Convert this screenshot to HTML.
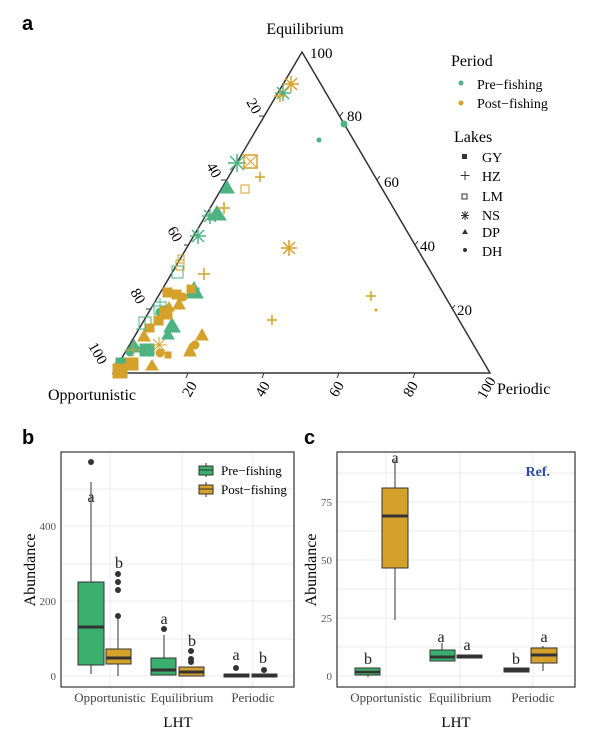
<!DOCTYPE html>
<html><head><meta charset="utf-8"><style>
body{margin:0;background:#fff;}
svg{display:block;font-family:"Liberation Serif",serif;}
.b{font-family:"Liberation Sans",sans-serif;font-weight:bold;}
</style></head><body>
<svg width="600" height="741" viewBox="0 0 600 741">
<text x="22" y="30" class="b" font-size="20">a</text>
<!-- ternary -->
<polygon points="302,52 113,373 490,373" fill="none" stroke="#333" stroke-width="1.5"/>
<g stroke="#333" stroke-width="1">
<line x1="264" y1="116" x2="259" y2="116"/><line x1="226" y1="180" x2="221" y2="180"/><line x1="189" y1="245" x2="184" y2="245"/><line x1="151" y1="309" x2="146" y2="309"/>
<line x1="188" y1="373" x2="186" y2="378"/><line x1="264" y1="373" x2="262" y2="378"/><line x1="339" y1="373" x2="337" y2="378"/><line x1="415" y1="373" x2="413" y2="378"/>
<line x1="340" y1="116" x2="343" y2="112"/><line x1="377" y1="180" x2="380" y2="176"/><line x1="415" y1="245" x2="418" y2="241"/><line x1="452" y1="309" x2="455" y2="305"/>
</g>
<text x="305" y="34" font-size="16" text-anchor="middle">Equilibrium</text>
<text x="310" y="58" font-size="15">100</text>
<text x="347" y="121" font-size="15">80</text>
<text x="384" y="187" font-size="15">60</text>
<text x="420" y="251" font-size="15">40</text>
<text x="457" y="315" font-size="15">20</text>
<text x="497" y="394" font-size="16">Periodic</text>
<text x="48" y="400" font-size="16">Opportunistic</text>
<g font-size="15">
<text transform="translate(246,102) rotate(60)">20</text>
<text transform="translate(206,166) rotate(60)">40</text>
<text transform="translate(167,230) rotate(60)">60</text>
<text transform="translate(130,292) rotate(60)">80</text>
<text transform="translate(88,346) rotate(60)">100</text>
<text transform="translate(190,398) rotate(-60)">20</text>
<text transform="translate(263,398) rotate(-60)">40</text>
<text transform="translate(337,398) rotate(-60)">60</text>
<text transform="translate(411,398) rotate(-60)">80</text>
<text transform="translate(485,400) rotate(-60)">100</text>
</g>
<!-- points -->
<g fill="#4db383" stroke="#4db383">
<circle cx="344" cy="124" r="3"/><circle cx="319" cy="140" r="2"/>
<polygon points="227,181 220,193 234,193"/><polygon points="217,206 208,220 226,220"/>
<polygon points="194,282 185,298 203,298"/><polygon points="168,329 162,339 174,339"/>
<rect x="140" y="344" width="14" height="12"/><rect x="116" y="358" width="14" height="12"/>
<rect x="190" y="288" width="9" height="9"/>
<path d="M237,154 l0,18 M228,163 l18,0 M230,156 l14,14 M244,156 l-14,14" fill="none" stroke-width="1.5"/>
<path d="M283,85 l0,16 M275,93 l16,0 M277,87 l12,12 M289,87 l-12,12" fill="none" stroke-width="1.5"/>
<path d="M198,228 l0,16 M190,236 l16,0 M192,230 l12,12 M204,230 l-12,12" fill="none" stroke-width="1.5"/>
<path d="M210,208 l0,16 M202,216 l16,0 M204,210 l12,12 M216,210 l-12,12" fill="none" stroke-width="1.5"/>
<rect x="172" y="266" width="11" height="12" fill="none"/><rect x="139" y="317" width="12" height="12" fill="none"/>
<rect x="154" y="302" width="12" height="12" fill="none"/>
<path d="M145,320 l0,18 M136,329 l18,0 M160,298 l0,16 M152,306 l16,0" fill="none"/>
<circle cx="160" cy="312" r="4"/><circle cx="130" cy="352" r="4"/><circle cx="120" cy="365" r="5"/>
<polygon points="172,318 164,332 180,332"/><polygon points="134,340 126,352 142,352"/>
</g>
<g fill="#d4a22b" stroke="#d4a22b">
<path d="M291,76 l0,16 M283,84 l16,0 M285,78 l12,12 M297,78 l-12,12" fill="none" stroke-width="1.5"/>
<path d="M280,90 l0,12 M274,96 l12,0" fill="none" stroke-width="1.5"/>
<rect x="244" y="155" width="13" height="13" fill="none" stroke-width="1.5"/>
<path d="M244,155 l13,13 M257,155 l-13,13" fill="none"/>
<rect x="241" y="185" width="8" height="8" fill="none"/>
<path d="M260,172 l0,10 M255,177 l10,0 M224,202 l0,12 M218,208 l12,0" fill="none" stroke-width="1.5"/>
<path d="M289,240 l0,16 M281,248 l16,0 M283,242 l12,12 M295,242 l-12,12" fill="none" stroke-width="1.5"/>
<path d="M204,268 l0,12 M198,274 l12,0" fill="none" stroke-width="1.5"/>
<path d="M371,291 l0,10 M366,296 l10,0" fill="none" stroke-width="1.5"/>
<path d="M272,315 l0,10 M267,320 l10,0" fill="none" stroke-width="1.5"/>
<circle cx="376" cy="310" r="1"/>
<rect x="176" y="260" width="8" height="10" fill="none"/><rect x="178" y="255" width="6" height="8" fill="none"/>
<rect x="187" y="285" width="8" height="8"/>
<rect x="172" y="290" width="9" height="9"/><rect x="163" y="288" width="9" height="9"/>
<rect x="160" y="307" width="12" height="12"/><rect x="154" y="316" width="9" height="9"/>
<rect x="126" y="358" width="12" height="12"/><rect x="113" y="364" width="14" height="14"/>
<rect x="165" y="352" width="6" height="6"/><rect x="146" y="324" width="8" height="8"/>
<circle cx="183" cy="297" r="4"/><circle cx="160" cy="353" r="4"/><circle cx="195" cy="345" r="4"/>
<polygon points="202,329 196,340 208,340"/><polygon points="190,344 184,356 196,356"/>
<polygon points="179,298 173,309 185,309"/><polygon points="152,360 146,370 158,370"/>
<polygon points="144,330 138,341 150,341"/><polygon points="169,302 164,311 174,311"/>
<path d="M159,337 l0,16 M151,345 l16,0 M153,339 l12,12 M165,339 l-12,12" fill="none"/>
<path d="M133,343 l0,14 M126,350 l14,0" fill="none"/>
</g>
<!-- legend a -->
<text x="451" y="66" font-size="16">Period</text>
<circle cx="461" cy="83" r="2.5" fill="#4db383"/><text x="477" y="89" font-size="14">Pre−fishing</text>
<circle cx="461" cy="103" r="2.5" fill="#d4a22b"/><text x="477" y="108" font-size="14">Post−fishing</text>
<text x="454" y="142" font-size="16">Lakes</text>
<g font-size="14" fill="#000">
<rect x="462" y="154" width="5" height="5" fill="#333"/><text x="482" y="162">GY</text>
<path d="M465,171 v9 M460.5,175.5 h9" stroke="#333"/><text x="482" y="181">HZ</text>
<rect x="462" y="194" width="5" height="5" fill="none" stroke="#333"/><text x="482" y="201">LM</text>
<path d="M465,211 v9 M461,215.5 h8 M462,212 l6,7 M468,212 l-6,7" stroke="#333"/><text x="482" y="220">NS</text>
<polygon points="465,229 462,234 468,234" fill="#333"/><text x="482" y="237">DP</text>
<circle cx="465" cy="250" r="2" fill="#333"/><text x="482" y="256">DH</text>
</g>
<!-- panel b -->
<text x="22" y="444" class="b" font-size="20">b</text>
<text x="304" y="444" class="b" font-size="20">c</text>
<g stroke="#ebebeb" stroke-width="1">
<line x1="61" x2="294" y1="676" y2="676"/><line x1="61" x2="294" y1="601" y2="601"/><line x1="61" x2="294" y1="526" y2="526"/>
<line x1="61" x2="294" y1="489" y2="489"/><line x1="61" x2="294" y1="564" y2="564"/><line x1="61" x2="294" y1="639" y2="639"/>
<line x1="110" x2="110" y1="452" y2="687"/><line x1="182" x2="182" y1="452" y2="687"/><line x1="253" x2="253" y1="452" y2="687"/>
<line x1="337" x2="575" y1="676" y2="676"/><line x1="337" x2="575" y1="618" y2="618"/><line x1="337" x2="575" y1="560" y2="560"/><line x1="337" x2="575" y1="502" y2="502"/>
<line x1="337" x2="575" y1="647" y2="647"/><line x1="337" x2="575" y1="589" y2="589"/><line x1="337" x2="575" y1="531" y2="531"/><line x1="337" x2="575" y1="473" y2="473"/>
<line x1="386" x2="386" y1="452" y2="687"/><line x1="460" x2="460" y1="452" y2="687"/><line x1="533" x2="533" y1="452" y2="687"/>
</g>
<g stroke="#333" stroke-width="1">
<line x1="91" x2="91" y1="590" y2="674"/><line x1="91" x2="91" y1="482" y2="582"/>
<rect x="78" y="582" width="26" height="83" fill="#3aaf6e"/><line x1="78" x2="104" y1="627" y2="627" stroke-width="3"/>
<line x1="118" x2="118" y1="614" y2="676"/>
<rect x="106" y="649" width="25" height="15" fill="#d4a22b"/><line x1="106" x2="131" y1="658" y2="658" stroke-width="3"/>
<line x1="164" x2="164" y1="635" y2="675"/>
<rect x="151" y="658" width="25" height="17" fill="#3aaf6e"/><line x1="151" x2="176" y1="670" y2="670" stroke-width="3"/>
<rect x="179" y="667" width="25" height="9" fill="#d4a22b"/><line x1="179" x2="204" y1="672" y2="672" stroke-width="3"/>
<rect x="224" y="674" width="25" height="3" fill="#333"/><rect x="252" y="674" width="25" height="3" fill="#333"/>
<line x1="368" x2="368" y1="670" y2="677"/>
<rect x="355" y="668" width="25" height="7" fill="#3aaf6e"/><line x1="355" x2="380" y1="672" y2="672" stroke-width="2.5"/>
<line x1="395" x2="395" y1="460" y2="488"/><line x1="395" x2="395" y1="568" y2="620"/>
<rect x="382" y="488" width="26" height="80" fill="#d4a22b"/><line x1="382" x2="408" y1="516" y2="516" stroke-width="3"/>
<line x1="442" x2="442" y1="643" y2="650"/>
<rect x="430" y="650" width="25" height="11" fill="#3aaf6e"/><line x1="430" x2="455" y1="657" y2="657" stroke-width="3"/>
<rect x="457" y="655" width="25" height="3" fill="#333"/>
<rect x="504" y="668" width="25" height="4" fill="#333"/>
<line x1="543" x2="543" y1="646" y2="671"/>
<rect x="531" y="648" width="26" height="15" fill="#d4a22b"/><line x1="531" x2="557" y1="655" y2="655" stroke-width="3"/>
</g>
<g fill="#333">
<circle cx="91" cy="462" r="3"/><circle cx="118" cy="574" r="3"/><circle cx="118" cy="582" r="3"/><circle cx="118" cy="590" r="3"/><circle cx="118" cy="616" r="3"/>
<circle cx="164" cy="629" r="3"/><circle cx="191" cy="651" r="3"/><circle cx="191" cy="659" r="3"/><circle cx="191" cy="662" r="3"/>
<circle cx="236" cy="668" r="3"/><circle cx="264" cy="670" r="3"/>
</g>
<rect x="61" y="452" width="233" height="235" fill="none" stroke="#333" stroke-width="1.2"/>
<rect x="337" y="452" width="238" height="235" fill="none" stroke="#333" stroke-width="1.2"/>
<g font-size="11" fill="#555" text-anchor="end">
<text x="56" y="680">0</text><text x="56" y="605">200</text><text x="56" y="530">400</text>
<text x="332" y="680">0</text><text x="332" y="622">25</text><text x="332" y="564">50</text><text x="332" y="506">75</text>
</g>
<g font-size="13" fill="#444" text-anchor="middle">
<text x="110" y="702">Opportunistic</text><text x="182" y="702">Equilibrium</text><text x="253" y="702">Periodic</text>
<text x="386" y="702">Opportunistic</text><text x="460" y="702">Equilibrium</text><text x="533" y="702">Periodic</text>
<text x="178" y="727" fill="#000" font-size="15">LHT</text><text x="456" y="727" fill="#000" font-size="15">LHT</text>
</g>
<text transform="translate(35,570) rotate(-90)" font-size="16" text-anchor="middle">Abundance</text>
<text transform="translate(316,570) rotate(-90)" font-size="16" text-anchor="middle">Abundance</text>
<g font-size="16" fill="#222" text-anchor="middle">
<text x="91" y="502">a</text><text x="119" y="568">b</text><text x="164" y="624">a</text><text x="192" y="646">b</text>
<text x="236" y="660">a</text><text x="263" y="663">b</text>
<text x="368" y="664">b</text><text x="395" y="463">a</text><text x="441" y="642">a</text><text x="467" y="650">a</text>
<text x="516" y="664">b</text><text x="544" y="642">a</text>
</g>
<text x="550" y="476" font-weight="bold" font-size="14" fill="#2c4aa8" text-anchor="end">Ref.</text>
<line x1="206" x2="206" y1="463" y2="477" stroke="#333"/><rect x="199" y="466" width="14" height="9" fill="#3aaf6e" stroke="#333"/><line x1="199" x2="213" y1="470" y2="470" stroke="#333"/>
<line x1="206" x2="206" y1="482" y2="497" stroke="#333"/><rect x="199" y="485" width="14" height="9" fill="#d4a22b" stroke="#333"/><line x1="199" x2="213" y1="489" y2="489" stroke="#333"/>
<text x="221" y="475" font-size="13">Pre−fishing</text><text x="221" y="494" font-size="13">Post−fishing</text>
</svg>
</body></html>
